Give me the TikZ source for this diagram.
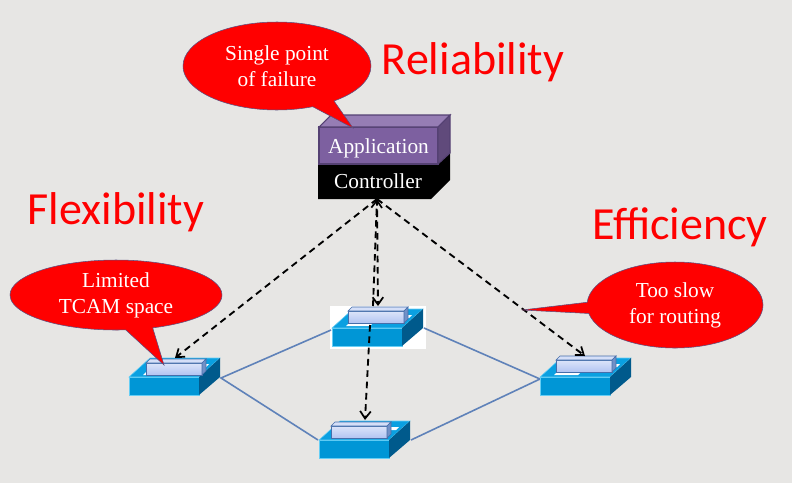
\documentclass[tikz,border=0pt]{standalone}
\usepackage{fontspec}
\setmainfont{Liberation Serif}
\newfontfamily\titlefont{Carlito}
\usetikzlibrary{shapes.callouts,shapes.geometric,arrows.meta,positioning}
\definecolor{bgc}{RGB}{231,230,228}
\definecolor{swfront}{RGB}{0,150,214}
\definecolor{swtop}{RGB}{10,160,225}
\definecolor{swside}{RGB}{0,90,140}
\definecolor{swbox}{RGB}{178,196,242}
\definecolor{swedge}{RGB}{70,110,170}
\definecolor{linkc}{RGB}{95,130,185}
\definecolor{appfront}{RGB}{125,96,160}
\definecolor{apptop}{RGB}{150,125,180}
\definecolor{appside}{RGB}{96,74,123}
\definecolor{appedge}{RGB}{85,65,115}
\tikzset{
	bubble/.style={ellipse callout,draw={rgb,255:red,90;green,80;blue,130},fill=red,text=white,align=center,font=\fontsize{16}{19.5}\selectfont,inner sep=0pt},
	bigword/.style={text=red,font=\titlefont\fontsize{34.5}{36}\selectfont,inner sep=0pt},
	ctrltext/.style={text=white,font=\fontsize{16}{18}\selectfont,inner sep=0pt},
	ctrlarrow/.style={dash pattern=on 5pt off 3.5pt,line width=1.4pt,-{Straight Barb[length=5.5pt,width=8pt,line width=1.3pt]},black},
	swlink/.style={draw=linkc,line width=1.2pt},
}
% switch: #1 the name, (#2,#3) the top left corner of its front face, (#4,#5) where its small box sits
\newcommand{\switchbox}[5]{
	\coordinate (#1) at (#2,#3);
	\fill[swfront,draw=cyan!60!white,line width=0.4pt] (#2,#3) rectangle ++(70,18);
	\fill[swtop,draw=cyan!60!white,line width=0.4pt] (#2,#3) -- ++(21,-19) -- ++(70,0) -- ++(-21,19) -- cycle;
	\fill[swside] (#2+70,#3) -- ++(21,-19) -- ++(0,19) -- ++(-21,18) -- cycle;
	\fill[white] (#2+14,#3-2) -- ++(24,0) -- ++(3,-3) -- ++(-24,0) -- cycle;
	\fill[white] (#2+72,#3-13) -- ++(8,0) -- ++(-3,3) -- ++(-6,0) -- cycle;
	\shade[top color=swbox!45!white,bottom color=swbox,draw=swedge,line width=0.5pt] (#2+#4,#3+#5) rectangle ++(56,12);
	\filldraw[swbox!55!white,draw=swedge,line width=0.5pt] (#2+#4,#3+#5) -- ++(4,-4) -- ++(56,0) -- ++(-4,4) -- cycle;
	\filldraw[swedge!60!swbox,draw=swedge,line width=0.5pt] (#2+#4+56,#3+#5) -- ++(4,-4) -- ++(0,12) -- ++(-4,4) -- cycle;
}
\begin{document}
\begin{tikzpicture}[x=0.75pt,y=0.75pt,yscale=-1,xscale=1]
	\useasboundingbox (0,0) rectangle (792,483);
	\fill[bgc] (0,0) rectangle (792,483);
	
	% white patch behind the middle switch
	\fill[white] (330,306) rectangle (426,349);
	
	% links
	\coordinate (leftport) at (221,378);
	\coordinate (midleft) at (331,330);
	\coordinate (midright) at (424,328);
	\coordinate (rightport) at (540,379);
	\coordinate (botleft) at (318,440);
	\coordinate (botright) at (411,440);
	\draw[swlink] (midleft) -- (leftport) -- (botleft);
	\draw[swlink] (midright) -- (rightport) -- (botright);
	
	% switches
	\switchbox{swleft}{129}{377}{17}{-14}
	\switchbox{swmid}{332}{328}{16}{-17}
	\switchbox{swbot}{319}{440}{12}{-14}
	\switchbox{swright}{540}{377}{16}{-17}
	
	% controller
	\fill[black] (318,153) -- (318,199) -- (431,199) -- (450,180) -- (450,150) -- cycle;
	\filldraw[appfront,draw=appedge,line width=0.8pt] (319,127) rectangle (438,164);
	\filldraw[apptop,draw=appedge,line width=0.8pt] (319,127) -- (331,115) -- (450,115) -- (438,127) -- cycle;
	\filldraw[appside,draw=appedge,line width=0.8pt] (438,127) -- (450,115) -- (450,153) -- (438,164) -- cycle;
	\node[ctrltext] (appname) at (378.5,148.5) {Application};
	\node[ctrltext] (ctrlname) at (378,181) {Controller};
	
	% control channels
	\coordinate (ctrlport) at (377,199);
	\coordinate (swmidin) at (378,306);
	\coordinate (swmidinb) at (373,306);
	\draw[ctrlarrow] (ctrlport) -- (175,358);
	\draw[ctrlarrow] (ctrlport) -- (585,356);
	\draw[ctrlarrow] (swmidinb) -- (ctrlport);
	\draw[ctrlarrow] (ctrlport) -- (swmidin);
	\draw[ctrlarrow] (370,325) -- (365,420);
	
	% callouts
	\node[bubble,minimum width=188pt*0.75,minimum height=88pt*0.75,callout absolute pointer={(353,128)}] (failure) at (277,66) {Single point\\of failure};
	\node[bubble,minimum width=212pt*0.75,minimum height=70pt*0.75,callout absolute pointer={(164,365)}] (tcam) at (116,295) {Limited\\TCAM space};
	\node[bubble,minimum width=176pt*0.75,minimum height=86pt*0.75,callout absolute pointer={(522,310)}] (routing) at (675,305) {Too slow\\for routing};
	
	% headings
	\node[bigword] (reliability) at (473,62) {Reliability};
	\node[bigword] (flexibility) at (116,212) {Flexibility};
	\node[bigword] (efficiency) at (680,227) {Efficiency};
\end{tikzpicture}
\end{document}
